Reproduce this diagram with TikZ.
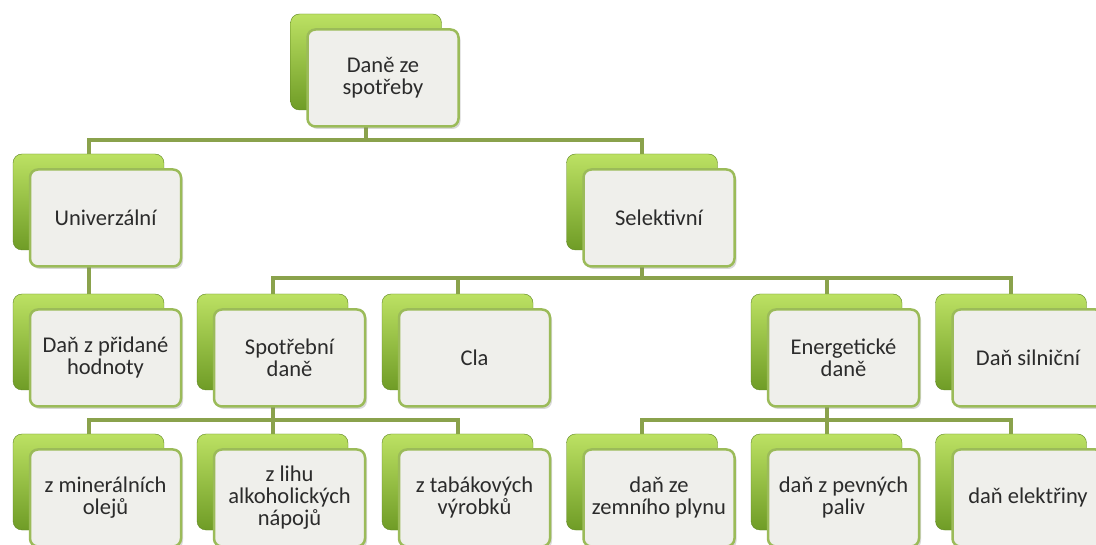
\documentclass[tikz,border=0pt]{standalone}
\usepackage{fontspec}
\setmainfont{Carlito}
\usepackage{tikz}
\usetikzlibrary{backgrounds,shadows}

\definecolor{limetop}{HTML}{BCE163}
\definecolor{limebot}{HTML}{6F9C26}
\definecolor{frameg}{HTML}{9BBB59}
\definecolor{lineg}{HTML}{8AA24C}
\definecolor{paper}{HTML}{EFEFEB}
\definecolor{ink}{HTML}{2B2B2B}

\begin{document}
\begin{tikzpicture}[
    x=1pt, y=-1pt,
    back/.style={rounded corners=9pt, minimum width=151pt, minimum height=96pt,
        inner sep=0pt, top color=limetop, bottom color=limebot,
        draw=limebot!85!black, line width=0.4pt},           % green block behind
    front/.style={rounded corners=8pt, minimum width=151pt, minimum height=97pt,
        inner sep=2pt, draw=frameg, line width=2.5pt, fill=paper,
        align=center, text=ink, font=\fontsize{22.5}{22}\selectfont,
        xshift=17pt, yshift=-16pt,
        drop shadow={opacity=0.3, shadow xshift=2pt, shadow yshift=-2.5pt}}, % text card
    link/.style={draw=lineg, line width=4pt}                 % tree connectors
    ]

    \useasboundingbox (0,0) rectangle (1096,545);
    \clip (0,0) rectangle (1096,545);

    % Root
    \node[back] (top-b) at (366,62) {};
    \node[front] (top) at (top-b) {Daně ze\\spotřeby};

    % Second level
    \node[back] (uni-b) at (88.5,202) {};
    \node[front] (uni) at (uni-b) {Univerzální};
    \node[back] (sel-b) at (642,202) {};
    \node[front] (sel) at (sel-b) {Selektivní};

    % Third level
    \node[back] (dph-b) at (88.5,342) {};
    \node[front] (dph) at (dph-b) {Daň z přidané\\hodnoty};
    \node[back] (spo-b) at (272.5,342) {};
    \node[front] (spo) at (spo-b) {Spotřební\\daně};
    \node[back] (cla-b) at (457.5,342) {};
    \node[front] (cla) at (cla-b) {Cla};
    \node[back] (ene-b) at (826.5,342) {};
    \node[front] (ene) at (ene-b) {Energetické\\daně};
    \node[back] (sil-b) at (1011,342) {};
    \node[front] (sil) at (sil-b) {Daň silniční};

    % Fourth level
    \node[back] (min-b) at (88.5,482) {};
    \node[front] (min) at (min-b) {z minerálních\\olejů};
    \node[back] (lih-b) at (272.5,482) {};
    \node[front] (lih) at (lih-b) {z lihu\\alkoholických\\nápojů};
    \node[back] (tab-b) at (457.5,482) {};
    \node[front] (tab) at (tab-b) {z tabákových\\výrobků};
    \node[back] (zem-b) at (642,482) {};
    \node[front] (zem) at (zem-b) {daň ze\\zemního plynu};
    \node[back] (pev-b) at (826.5,482) {};
    \node[front] (pev) at (pev-b) {daň z pevných\\paliv};
    \node[back] (ele-b) at (1011,482) {};
    \node[front] (ele) at (ele-b) {daň elektřiny};

    % Bus points of the tree
    \coordinate (topbus) at (366,140);
    \coordinate (selbus) at (642,278);
    \coordinate (spobus) at (272.5,420);
    \coordinate (enebus) at (826.5,420);

    % Connectors behind the blocks
    \begin{scope}[on background layer]
        \fill[white] (0,0) rectangle (1096,545);
        \draw[link] (top-b.center) -- (topbus) -| (uni-b.center);
        \draw[link] (topbus) -| (sel-b.center);
        \draw[link] (uni-b.center) -- (dph-b.center);
        \draw[link] (sel-b.center) -- (selbus) -| (spo-b.center);
        \draw[link] (selbus) -| (cla-b.center);
        \draw[link] (selbus) -| (ene-b.center);
        \draw[link] (selbus) -| (sil-b.center);
        \draw[link] (spo-b.center) -- (spobus) -| (min-b.center);
        \draw[link] (spobus) -| (lih-b.center);
        \draw[link] (spobus) -| (tab-b.center);
        \draw[link] (ene-b.center) -- (enebus) -| (zem-b.center);
        \draw[link] (enebus) -| (pev-b.center);
        \draw[link] (enebus) -| (ele-b.center);
    \end{scope}

\end{tikzpicture}
\end{document}
